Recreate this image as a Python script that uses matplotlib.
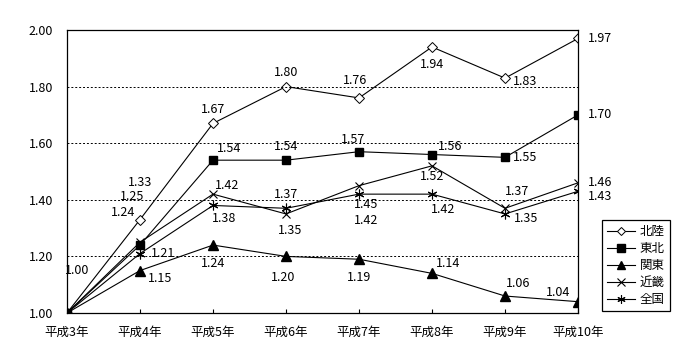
import matplotlib
matplotlib.use('Agg')
import matplotlib.pyplot as plt

plt.rcParams['font.family'] = ['Noto Sans CJK JP', 'DejaVu Sans']

years = ['平成3年', '平成4年', '平成5年', '平成6年', '平成7年', '平成8年', '平成9年', '平成10年']

hokuriku = [1.00, 1.33, 1.67, 1.80, 1.76, 1.94, 1.83, 1.97]
tohoku = [1.00, 1.24, 1.54, 1.54, 1.57, 1.56, 1.55, 1.70]
kanto = [1.00, 1.15, 1.24, 1.20, 1.19, 1.14, 1.06, 1.04]
kinki = [1.00, 1.25, 1.42, 1.35, 1.45, 1.52, 1.37, 1.46]
zenkoku = [1.00, 1.21, 1.38, 1.37, 1.42, 1.42, 1.35, 1.43]

# ラベルの位置 (ピクセル単位のずらし)
off_hokuriku = [(10, 43), (0, 37), (0, 14), (0, 14), (-4, 17), (0, -18), (20, -3), (22, 0)]
off_tohoku = [None, (-17, 33), (16, 12), (0, 14), (-6, 12), (18, 8), (20, 0), (22, 0)]
off_kanto = [None, (20, -8), (0, -18), (-3, -21), (0, -18), (16, 10), (13, 13), (-20, 9)]
off_kinki = [None, (-8, 46), (14, 9), (4, -17), (7, -19), (0, -11), (12, 17), (22, 0)]
off_zenkoku = [None, (23, 0), (11, -13), (0, 14), (7, -26), (11, -15), (21, -5), (22, -5)]

fig = plt.figure(figsize=(7, 3.6), dpi=100)
ax = fig.add_axes([67/700, 1-313/360, (578-67)/700, (313-30)/360])

x = list(range(len(years)))
lw = 0.8
ax.plot(x, hokuriku, color='black', lw=lw, marker='D', ms=5, mfc='white', mec='black', mew=0.7, label='北陸')
ax.plot(x, tohoku, color='black', lw=lw, marker='s', ms=6, mfc='black', mec='black', label='東北')
ax.plot(x, kanto, color='black', lw=lw, marker='^', ms=7, mfc='black', mec='black', label='関東')
ax.plot(x, kinki, color='black', lw=lw, marker='x', ms=6, mew=0.8, label='近畿')
ax.plot(x, zenkoku, color='black', lw=lw, marker=(6, 2, 0), ms=7, mew=0.8, label='全国')

for vals, offs in [(hokuriku, off_hokuriku), (tohoku, off_tohoku), (kanto, off_kanto),
                   (kinki, off_kinki), (zenkoku, off_zenkoku)]:
    for i, v in enumerate(vals):
        if offs[i] is None:
            continue
        ax.annotate(f'{v:.2f}', (i, v), xytext=offs[i], textcoords='offset pixels',
                    ha='center', va='center', fontsize=9)

ax.set_xlim(0, 7)
ax.set_ylim(1.0, 2.0)
ticks = [1.0, 1.2, 1.4, 1.6, 1.8, 2.0]
ax.set_yticks(ticks)
ax.set_yticklabels([f'{t:.2f}' for t in ticks], fontsize=9)
ax.set_xticks(x)
ax.set_xticklabels(years, fontsize=9)
ax.tick_params(axis='x', direction='in', length=3, pad=9)
ax.tick_params(axis='y', length=0, pad=10)
for y in [1.2, 1.4, 1.6, 1.8]:
    ax.axhline(y, color='black', lw=0.7, ls=(0, (2, 2)))
for s in ax.spines.values():
    s.set_linewidth(0.9)

leg = ax.legend(loc='upper left', bbox_to_anchor=(602/700, 1-220/360), bbox_transform=fig.transFigure,
                borderaxespad=0, fontsize=9, fancybox=False, framealpha=1, edgecolor='black',
                handlelength=2.2, handletextpad=0.4, labelspacing=0.32, borderpad=0.4,
                markerscale=0.85)
leg.get_frame().set_linewidth(0.9)

fig.savefig('out.png', dpi=100)
